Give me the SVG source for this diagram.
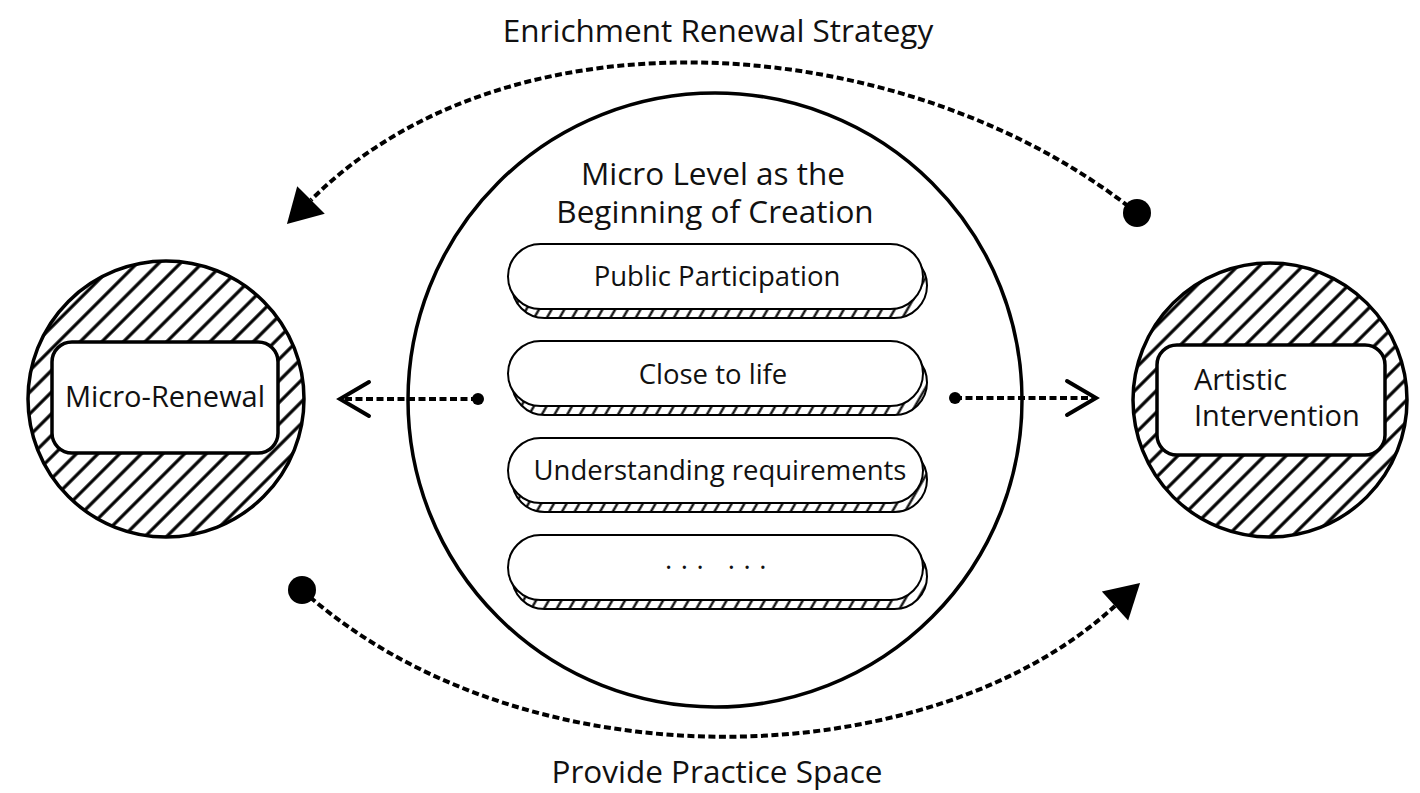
<svg xmlns="http://www.w3.org/2000/svg" width="1420" height="793" viewBox="0 0 1420 793">
<style>
  text { font-family: "Open Sans", "Noto Sans", "DejaVu Sans", sans-serif; fill: #111; }
  .title { font-size: 31.5px; text-anchor: middle; }
  .side { font-size: 29px; }
  .pilltxt { font-size: 27.5px; text-anchor: middle; }
  .ring { fill: url(#hatch); stroke: #000; stroke-width: 3.5; }
  .inner { fill: #fff; stroke: #000; stroke-width: 3.5; }
  .big { fill: #fff; stroke: #000; stroke-width: 3.5; }
  .pillBack { fill: url(#band); stroke: #000; stroke-width: 2; }
  .pillFront { fill: #fff; stroke: #000; stroke-width: 2; }
  .dash { fill: none; stroke: #000; stroke-width: 4; stroke-dasharray: 7 3.5; }
</style>
<defs>
  <pattern id="hatch" patternUnits="userSpaceOnUse" width="15.3" height="15.3" patternTransform="rotate(45)">
    <rect width="15.3" height="15.3" fill="#fff"/>
    <line x1="7.65" y1="-1" x2="7.65" y2="16.3" stroke="#000" stroke-width="3.2"/>
  </pattern>
  <pattern id="band" patternUnits="userSpaceOnUse" width="11" height="11" patternTransform="rotate(30)">
    <rect width="11" height="11" fill="#fff"/>
    <line x1="5.5" y1="-1" x2="5.5" y2="12" stroke="#000" stroke-width="2.2"/>
  </pattern>
  <marker id="dotL" markerUnits="userSpaceOnUse" viewBox="-16 -16 32 32" markerWidth="32" markerHeight="32" refX="0" refY="0" overflow="visible">
    <circle r="14" fill="#000"/>
  </marker>
  <marker id="dotS" markerUnits="userSpaceOnUse" viewBox="-8 -8 16 16" markerWidth="16" markerHeight="16" refX="0" refY="0" overflow="visible">
    <circle r="6" fill="#000"/>
  </marker>
  <marker id="tri" markerUnits="userSpaceOnUse" orient="auto" viewBox="0 -20 36 40" markerWidth="36" markerHeight="40" refX="0" refY="0" overflow="visible">
    <path d="M0,-19.5 L34,0 L0,19.5 Z" fill="#000"/>
  </marker>
  <marker id="chev" markerUnits="userSpaceOnUse" orient="auto" viewBox="-34 -22 40 44" markerWidth="40" markerHeight="44" refX="0" refY="0" overflow="visible">
    <path d="M-29,-17 L0,0 L-29,17" fill="none" stroke="#000" stroke-width="4" stroke-dasharray="none" stroke-linecap="round"/>
  </marker>
</defs>

<rect width="1420" height="793" fill="#fff"/>

<g id="node-micro-renewal">
  <circle class="ring" cx="166" cy="399" r="138"/>
  <rect class="inner" x="52" y="342" width="226" height="111" rx="20"/>
  <text class="side" x="165" y="407" text-anchor="middle">Micro-Renewal</text>
</g>

<g id="node-artistic-intervention">
  <circle class="ring" cx="1270" cy="400" r="137"/>
  <rect class="inner" x="1157" y="345" width="228" height="110" rx="20"/>
  <text class="side"><tspan x="1194" y="390">Artistic</tspan><tspan x="1194" y="426">Intervention</tspan></text>
</g>

<g id="node-micro-level">
  <circle class="big" cx="715" cy="400" r="307"/>
  <text class="title"><tspan x="713" y="185">Micro Level as the</tspan><tspan x="715" y="223">Beginning of Creation</tspan></text>
</g>

<g id="node-public-participation">
  <rect class="pillBack" x="512" y="253" width="415" height="65" rx="32.5"/>
  <rect class="pillFront" x="508" y="244" width="415" height="65" rx="32.5"/>
  <text class="pilltxt" x="717" y="286">Public Participation</text>
</g>

<g id="node-close-to-life">
  <rect class="pillBack" x="512" y="350" width="415" height="65" rx="32.5"/>
  <rect class="pillFront" x="508" y="341" width="415" height="65" rx="32.5"/>
  <text class="pilltxt" x="713" y="384">Close to life</text>
</g>

<g id="node-understanding-requirements">
  <rect class="pillBack" x="512" y="447" width="415" height="65" rx="32.5"/>
  <rect class="pillFront" x="508" y="438" width="415" height="65" rx="32.5"/>
  <text class="pilltxt" x="720" y="480">Understanding requirements</text>
</g>

<g id="node-more">
  <rect class="pillBack" x="512" y="544" width="415" height="65" rx="32.5"/>
  <rect class="pillFront" x="508" y="535" width="415" height="65" rx="32.5"/>
  <text class="pilltxt" x="720" y="577" letter-spacing="8.5">··· ···</text>
</g>

<g id="connectors">
  <path class="dash" d="M1137 213 C908 30 511 0 311 200" marker-start="url(#dotL)" marker-end="url(#tri)"/>
  <path class="dash" d="M302 590 C521 787 926 779 1115 606" marker-start="url(#dotL)" marker-end="url(#tri)"/>
  <path class="dash" d="M478 399 L340 399" marker-start="url(#dotS)" marker-end="url(#chev)"/>
  <path class="dash" d="M955 398 L1096 398" marker-start="url(#dotS)" marker-end="url(#chev)"/>
  <text class="title" x="718" y="42">Enrichment Renewal Strategy</text>
  <text class="title" x="717" y="783">Provide Practice Space</text>
</g>
</svg>
